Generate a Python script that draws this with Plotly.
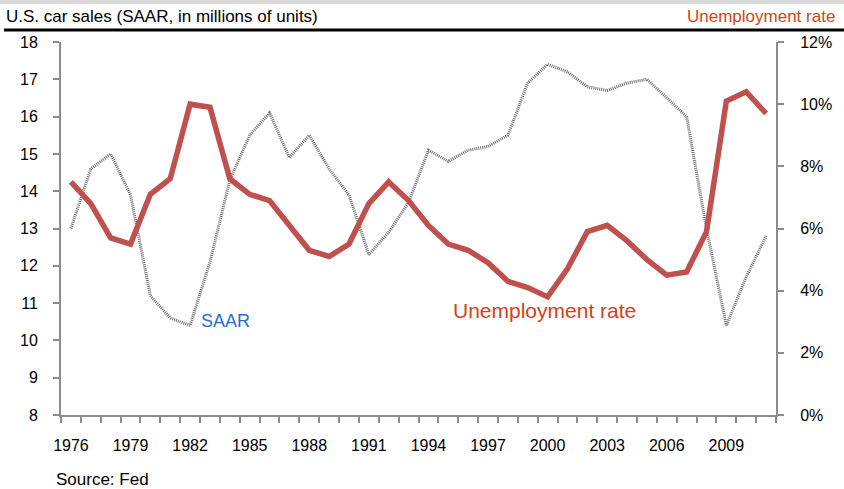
import plotly.graph_objects as go

years = list(range(1976, 2012))
saar = [13.0, 14.6, 15.0, 13.9, 11.2, 10.6, 10.4, 12.1, 14.3, 15.5, 16.1, 14.9,
        15.5, 14.6, 13.9, 12.3, 12.9, 13.7, 15.1, 14.8, 15.1, 15.2, 15.5, 16.9,
        17.4, 17.2, 16.8, 16.7, 16.9, 17.0, 16.5, 16.0, 13.0, 10.4, 11.7, 12.8]
unemp = [7.5, 6.8, 5.7, 5.5, 7.1, 7.6, 10.0, 9.9, 7.6, 7.1, 6.9, 6.1,
         5.3, 5.1, 5.5, 6.8, 7.5, 6.9, 6.1, 5.5, 5.3, 4.9, 4.3, 4.1,
         3.8, 4.7, 5.9, 6.1, 5.6, 5.0, 4.5, 4.6, 5.9, 10.1, 10.4, 9.7]
label_years = list(range(1976, 2010, 3))
left_ticks = list(range(8, 19))
right_ticks = list(range(0, 13, 2))

W, H = 844, 489
L, R, T, B = 61, 776, 42, 415

def px(x):
    return (x - L) / (R - L)

def py(y):
    return (B - y) / (B - T)

fig = go.Figure()
fig.add_trace(go.Scatter(x=years, y=saar, mode="lines", name="SAAR",
                         line=dict(color="#6e6e6e", width=3, dash="1px,1px"),
                         yaxis="y"))
fig.add_trace(go.Scatter(x=years, y=unemp, mode="lines", name="Unemployment rate",
                         line=dict(color="#C0504D", width=5.5),
                         yaxis="y2"))

axis_col = "#8c8c8c"
font_tick = dict(family="Liberation Sans, Arial", size=16, color="#000")

fig.update_layout(
    width=W, height=H,
    margin=dict(l=L, r=W - R, t=T, b=H - B, autoexpand=False),
    paper_bgcolor="white", plot_bgcolor="white",
    showlegend=False,
    xaxis=dict(range=[1975.5, 2011.5], tickvals=label_years,
               ticktext=[str(y) for y in label_years], automargin=False,
               ticks="", showgrid=False, zeroline=False,
               showline=True, linecolor=axis_col, linewidth=2,
               tickfont=font_tick, ticklabelstandoff=15,
               minor=dict(tick0=1975.5, dtick=1, ticks="outside", ticklen=6,
                          tickcolor=axis_col, tickwidth=1.5, showgrid=False)),
    yaxis=dict(range=[8, 18], tickvals=left_ticks, ticks="outside", ticklen=6,
               tickcolor=axis_col, tickwidth=1.5, showgrid=False, zeroline=False,
               showline=True, linecolor=axis_col, linewidth=2, automargin=False,
               tickfont=font_tick, ticklabelstandoff=12),
    yaxis2=dict(range=[0, 12], tickvals=right_ticks,
                ticktext=[f"{v}%" for v in right_ticks],
                overlaying="y", side="right", ticks="outside", ticklen=6,
                tickcolor=axis_col, tickwidth=1.5, showgrid=False, zeroline=False,
                showline=True, linecolor=axis_col, linewidth=2, automargin=False,
                tickfont=font_tick, ticklabelstandoff=13),
)

# header band and rule
fig.add_shape(type="rect", xref="paper", yref="paper", x0=px(0), x1=px(W),
              y0=py(0), y1=py(4), fillcolor="#d9d9d9", line=dict(width=0), layer="below")
fig.add_shape(type="line", xref="paper", yref="paper", x0=px(4), x1=px(W),
              y0=py(30), y1=py(30), line=dict(color="#000", width=3))

fig.add_annotation(xref="paper", yref="paper", x=px(4), y=py(17), text="U.S. car sales (SAAR, in millions of units)",
                   showarrow=False, xanchor="left", yanchor="middle",
                   font=dict(family="Liberation Sans, Arial", size=17, color="#000"))
fig.add_annotation(xref="paper", yref="paper", x=px(837), y=py(17), text="Unemployment rate",
                   showarrow=False, xanchor="right", yanchor="middle",
                   font=dict(family="Liberation Sans, Arial", size=17, color="#D4421A"))
fig.add_annotation(xref="paper", yref="paper", x=px(199), y=py(321), text="SAAR",
                   showarrow=False, xanchor="left", yanchor="middle",
                   font=dict(family="Liberation Sans, Arial", size=18, color="#1B72D0"))
fig.add_annotation(xref="paper", yref="paper", x=px(451), y=py(310), text="Unemployment rate",
                   showarrow=False, xanchor="left", yanchor="middle",
                   font=dict(family="Liberation Sans, Arial", size=21, color="#D4421A"))
fig.add_annotation(xref="paper", yref="paper", x=px(54), y=py(479), text="Source: Fed",
                   showarrow=False, xanchor="left", yanchor="middle",
                   font=dict(family="Liberation Sans, Arial", size=17, color="#000"))

fig.write_html("out.html", config={"displayModeBar": False},
               post_script="document.body.style.margin='0';document.body.style.overflow='hidden';")
